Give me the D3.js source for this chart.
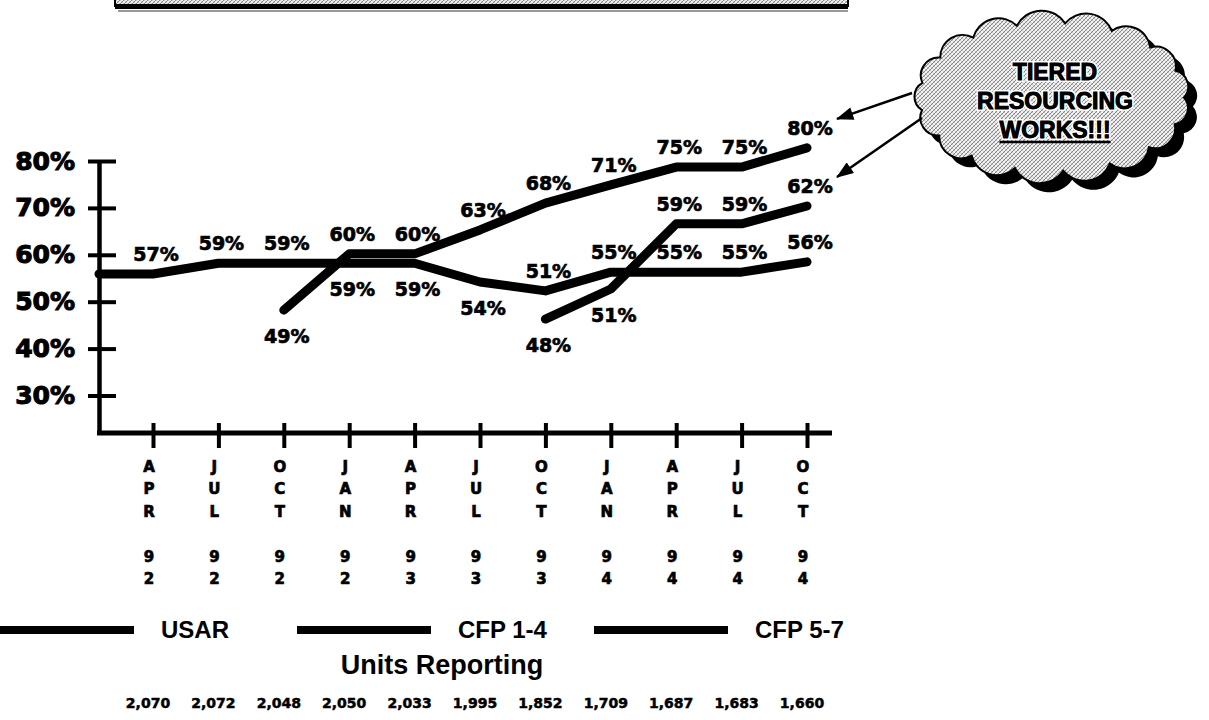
<!DOCTYPE html>
<html>
<head>
<meta charset="utf-8">
<script src="https://cdn.jsdelivr.net/npm/d3@7"></script>
<style>
  body { margin: 0; background: #fff; }
  svg { display: block; }
  .heavy { font-family: "DejaVu Sans", sans-serif; font-weight: bold; stroke: #000; stroke-width: 0.7px; }
  .arial { font-family: "Liberation Sans", Arial, sans-serif; font-weight: bold; }
</style>
</head>
<body>
<svg id="chart" width="1209" height="720"></svg>
<script>
// quarters on the x axis
var quarters = d3.range(11);
var monthLabels = ["APR","JUL","OCT","JAN","APR","JUL","OCT","JAN","APR","JUL","OCT"];
var yearLabels = ["92","92","92","92","93","93","93","94","94","94","94"];

// where each line is drawn
var usar = [55.9, 58.2, 58.2, 58.2, 58.2, 54.2, 52.3, 56.3, 56.3, 56.3, 58.5];
var cfp14 = [null, null, 48.2, 60.2, 60.2, 65.3, 71.0, 74.9, 78.7, 78.7, 82.8];
var cfp57 = [null, null, null, null, null, null, 46.3, 52.7, 66.6, 66.6, 70.4];

// the percentages printed at each point
var usarText = ["57%","59%","59%","59%","59%","54%","51%","55%","55%","55%","56%"];
var cfp14Text = [null, null, "49%","60%","60%","63%","68%","71%","75%","75%","80%"];
var cfp57Text = [null, null, null, null, null, null, "48%","51%","59%","59%","62%"];

var unitsReporting = [2070, 2072, 2048, 2050, 2033, 1995, 1852, 1709, 1687, 1683, 1660];
var yTicks = [30, 40, 50, 60, 70, 80];
var seriesNames = ["USAR", "CFP 1-4", "CFP 5-7"];
var cloudLines = ["TIERED", "RESOURCING", "WORKS!!!"];

// label placement: indexes whose label sits under the line
var labelBelow = [[3, 4, 5], [2], [6, 7]];

var svg = d3.select("#chart");
var plotLeft = 99, plotRight = 832, plotBottom = 433;

var x = d3.scalePoint().domain(quarters).range([153, 807]);
var y = d3.scaleLinear().domain([22, 80]).range([plotBottom, 161]);

// hatch fill for the cloud and the banner
var defs = svg.append("defs");
var pat = defs.append("pattern").attr("id", "hatch")
    .attr("width", 4).attr("height", 4).attr("patternUnits", "userSpaceOnUse");
pat.append("rect").attr("width", 4).attr("height", 4).attr("fill", "#f2f2f2");
pat.append("path").attr("d", "M-1,1L1,-1M0,4L4,0M3,5L5,3").attr("stroke", "#6a6a6a").attr("stroke-width", 0.8);
pat.append("path").attr("d", "M0,0L4,4").attr("stroke", "#a0a0a0").attr("stroke-width", 0.5);

defs.append("marker").attr("id", "head")
    .attr("viewBox", "0 -6 16 12").attr("refX", 15).attr("refY", 0)
    .attr("markerWidth", 18).attr("markerHeight", 13)
    .attr("markerUnits", "userSpaceOnUse").attr("orient", "auto")
  .append("path").attr("d", "M0,-6L16,0L0,6Z").attr("fill", "#000");

// banner cut off at the top
svg.append("rect").attr("x", 115).attr("y", -20).attr("width", 733).attr("height", 26)
    .attr("fill", "url(#hatch)").attr("stroke", "#000").attr("stroke-width", 2);
svg.append("rect").attr("x", 115).attr("y", 4).attr("width", 733).attr("height", 5).attr("fill", "#000");
svg.append("line").attr("x1", 118).attr("x2", 848).attr("y1", 11).attr("y2", 11)
    .attr("stroke", "#999").attr("stroke-width", 2);

// y axis
var yAxis = svg.append("g").attr("transform", "translate(" + plotLeft + ",0)")
    .call(d3.axisLeft(y).tickValues(yTicks).tickFormat(function(d) { return d + "%"; })
      .tickSizeOuter(0).tickSizeInner(11));
yAxis.select(".domain").attr("stroke-width", 4.5);
yAxis.selectAll(".tick line").attr("x1", 17).attr("x2", -11).attr("stroke-width", 4);
yAxis.selectAll(".tick text").attr("x", -24).attr("class", "heavy")
    .attr("font-size", 25).attr("fill", "#000").style("stroke-width", "1.1px");

// x axis
var xAxis = svg.append("g").attr("transform", "translate(0," + plotBottom + ")")
    .call(d3.axisBottom(x).tickSize(15).tickFormat(""));
xAxis.select(".domain").remove();
xAxis.append("line").attr("x1", plotLeft - 2).attr("x2", plotRight)
    .attr("stroke", "#000").attr("stroke-width", 5);
xAxis.selectAll(".tick line").attr("y1", -10).attr("y2", 15).attr("stroke-width", 4);

var letterRows = [39, 61, 84];
var xLabels = svg.append("g").attr("class", "heavy").attr("font-size", 15)
    .attr("text-anchor", "middle");
quarters.forEach(function(q) {
  var t = xLabels.append("text").attr("x", x(q) - 4);
  monthLabels[q].split("").forEach(function(ch, k) {
    t.append("tspan").attr("x", x(q) - 4).attr("y", plotBottom + letterRows[k]).text(ch);
  });
  yearLabels[q].split("").forEach(function(ch, k) {
    t.append("tspan").attr("x", x(q) - 4).attr("y", plotBottom + 129 + k * 22).text(ch);
  });
});

// series lines
var series = [
  { name: seriesNames[0], values: usar, text: usarText },
  { name: seriesNames[1], values: cfp14, text: cfp14Text },
  { name: seriesNames[2], values: cfp57, text: cfp57Text }
];

var line = d3.line().x(function(d) { return d.x; }).y(function(d) { return y(d.v); });

series.forEach(function(s, si) {
  var pts = [];
  s.values.forEach(function(v, i) { if (v != null) pts.push({ x: x(i), v: v, i: i }); });
  // the USAR line runs back to the axis at its first value
  if (si === 0) pts.unshift({ x: plotLeft, v: pts[0].v });
  s.points = pts.filter(function(p) { return p.i != null; });

  svg.append("path").attr("d", line(pts))
      .attr("fill", "none").attr("stroke", "#000").attr("stroke-width", 9)
      .attr("stroke-linejoin", "round").attr("stroke-linecap", "round");
});

var labelG = svg.append("g").attr("class", "heavy").attr("font-size", 19)
    .attr("text-anchor", "middle");
series.forEach(function(s, si) {
  s.points.forEach(function(p) {
    var below = labelBelow[si].indexOf(p.i) >= 0;
    p.lx = x(p.i) + 3;
    p.ly = y(p.v) + (below ? 33 : -13);
    labelG.append("text").attr("x", p.lx).attr("y", p.ly).text(s.text[p.i]);
  });
});

// cloud callout
var cloud = { cx: 1052, cy: 97, rx: 132, ry: 74, bumps: 17 };
function cloudPath(c) {
  var pts = d3.range(c.bumps).map(function(k) {
    var a = 2 * Math.PI * k / c.bumps - Math.PI / 2 + 0.1;
    return [c.cx + c.rx * Math.cos(a), c.cy + c.ry * Math.sin(a)];
  });
  var s = "M" + pts[0][0] + "," + pts[0][1];
  pts.forEach(function(pt, k) {
    var nx = pts[(k + 1) % pts.length];
    var r = Math.hypot(nx[0] - pt[0], nx[1] - pt[1]) * 0.58;
    s += "A" + r + "," + r + " 0 0 1 " + nx[0] + "," + nx[1];
  });
  return s + "Z";
}
svg.append("path").attr("d", cloudPath(cloud)).attr("transform", "translate(9,9)").attr("fill", "#000");
svg.append("path").attr("d", cloudPath(cloud)).attr("fill", "url(#hatch)")
    .attr("stroke", "#000").attr("stroke-width", 2);

var cloudText = svg.append("g").attr("class", "arial").attr("font-size", 23)
    .attr("text-anchor", "middle").attr("fill", "#000")
    .attr("stroke", "#fff").attr("stroke-width", 4).attr("paint-order", "stroke");
cloudLines.forEach(function(t, k) {
  var el = cloudText.append("text").attr("x", cloud.cx + 3).attr("y", cloud.cy - 17 + k * 29).text(t);
  // second pass darkens the letters
  cloudText.append("text").attr("x", cloud.cx + 3).attr("y", cloud.cy - 17 + k * 29)
      .attr("stroke", "#000").attr("stroke-width", 0.9).text(t);
  if (k === 2) {
    var w = el.node().getComputedTextLength();
    svg.append("line").attr("x1", cloud.cx + 3 - w / 2).attr("x2", cloud.cx + 3 + w / 2)
        .attr("y1", cloud.cy + 45).attr("y2", cloud.cy + 45)
        .attr("stroke", "#000").attr("stroke-width", 2.5);
  }
});

// arrows to the last CFP labels
var arrowFrom = [[cloud.cx - 140, cloud.cy - 4], [cloud.cx - 130, cloud.cy + 21]];
[series[1], series[2]].forEach(function(s, k) {
  var last = s.points[s.points.length - 1];
  svg.append("line")
      .attr("x1", arrowFrom[k][0]).attr("y1", arrowFrom[k][1])
      .attr("x2", last.lx + 27).attr("y2", last.ly - 16)
      .attr("stroke", "#000").attr("stroke-width", 2.5)
      .attr("marker-end", "url(#head)");
});

// legend
var legend = svg.append("g").attr("transform", "translate(0,630)");
seriesNames.forEach(function(n, i) {
  var gx = i * 297;
  legend.append("line").attr("x1", gx).attr("x2", gx + 134)
      .attr("stroke", "#000").attr("stroke-width", 8);
  legend.append("text").attr("class", "arial").attr("font-size", 24)
      .attr("x", gx + 161).attr("y", 8).text(n);
});

svg.append("text").attr("class", "arial").attr("font-size", 27)
    .attr("text-anchor", "middle").attr("x", 442).attr("y", 674).text("Units Reporting");

var fmt = d3.format(",");
svg.append("g").attr("class", "heavy").attr("font-size", 14).attr("text-anchor", "middle")
  .style("stroke-width", "0.5px")
  .selectAll("text").data(unitsReporting).join("text")
    .attr("x", function(d, i) { return x(i) - 5; })
    .attr("y", 708)
    .text(function(d) { return fmt(d); });
</script>
</body>
</html>
